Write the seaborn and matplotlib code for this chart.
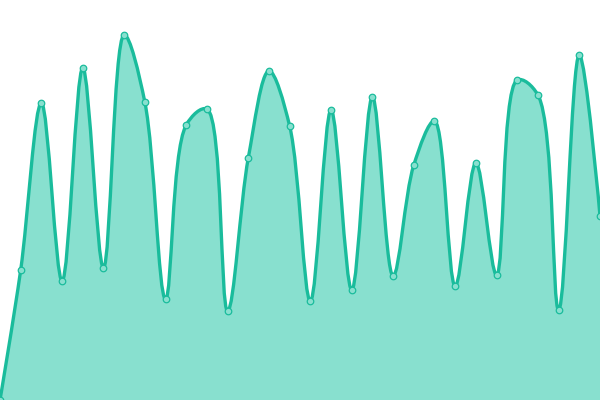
import numpy as np
import pandas as pd
import seaborn as sns
import matplotlib.pyplot as plt
from matplotlib.path import Path
from matplotlib.patches import PathPatch

# values (y axis 0..400)
idx = list(range(30))
vals = [0, 130, 297, 119, 332, 132, 365, 298, 101, 275,
        291, 89, 242, 329, 274, 99, 290, 110, 303, 124,
        235, 279, 114, 237, 125, 320, 305, 90, 345, 184]

line_col = "#1abc9c"
fill_col = "#88e0cf"

df = pd.DataFrame({"x": idx, "y": vals})

W, H = 600, 400
XMAX, YMAX = 29, 400

sns.set_style("white")
fig = plt.figure(figsize=(6, 4), dpi=100)
ax = fig.add_axes([0, 0, 1, 1])


def catmull_path(xs, ys, alpha=0.5):
    # centripetal catmull-rom as bezier segments (worked out in pixel space)
    sx, sy = W / XMAX, H / YMAX
    pts = np.column_stack([np.asarray(xs) * sx, np.asarray(ys) * sy]).astype(float)
    n = len(pts)
    verts = [pts[0]]
    codes = [Path.MOVETO]
    for i in range(n - 1):
        p0 = pts[i - 1] if i > 0 else None
        p1 = pts[i]
        p2 = pts[i + 1]
        p3 = pts[i + 2] if i + 2 < n else None
        d12 = np.hypot(*(p2 - p1))
        l12a, l12_2a = d12 ** alpha, d12 ** (2 * alpha)
        c1 = p1.copy()
        c2 = p2.copy()
        if p0 is not None:
            d01 = np.hypot(*(p1 - p0))
            l01a, l01_2a = d01 ** alpha, d01 ** (2 * alpha)
            a = 2 * l01_2a + 3 * l01a * l12a + l12_2a
            m = 3 * l01a * (l01a + l12a)
            c1 = (p1 * a - p0 * l12_2a + p2 * l01_2a) / m
        if p3 is not None:
            d23 = np.hypot(*(p3 - p2))
            l23a, l23_2a = d23 ** alpha, d23 ** (2 * alpha)
            b = 2 * l23_2a + 3 * l23a * l12a + l12_2a
            m = 3 * l23a * (l23a + l12a)
            c2 = (p2 * b + p1 * l23_2a - p3 * l12_2a) / m
        verts += [c1, c2, p2]
        codes += [Path.CURVE4] * 3
    verts = [(v[0] / sx, v[1] / sy) for v in verts]
    return verts, codes


verts, codes = catmull_path(df["x"], df["y"])

# filled area down to zero
fv = verts + [(df["x"].iloc[-1], 0), (df["x"].iloc[0], 0), verts[0]]
fc = codes + [Path.LINETO, Path.LINETO, Path.CLOSEPOLY]
ax.add_patch(PathPatch(Path(fv, fc), facecolor=fill_col, edgecolor="none", zorder=1))
ax.add_patch(PathPatch(Path(verts, codes), facecolor="none", edgecolor=line_col,
                       lw=2.4, zorder=2, capstyle="round", joinstyle="round"))

sns.scatterplot(data=df, x="x", y="y", ax=ax, s=22, color=fill_col,
                edgecolor=line_col, linewidth=0.9, zorder=3, clip_on=True)

ax.set_xlim(0, XMAX)
ax.set_ylim(0, YMAX)
ax.set_axis_off()
fig.savefig("out.png", dpi=100)
